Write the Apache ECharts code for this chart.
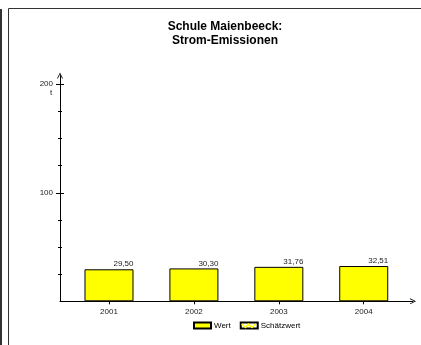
<!DOCTYPE html>
<html>
<head>
<meta charset="utf-8">
<style>
  html, body { margin: 0; padding: 0; background: #fff; }
  #chart { width: 421px; height: 345px; }
</style>
<script src="https://cdn.jsdelivr.net/npm/echarts@6/dist/echarts.min.js"></script>
</head>
<body>
<div id="chart"></div>
<script>
// Schule Maienbeeck: Strom-Emissionen (t)
var years = [2001, 2002, 2003, 2004];
var werte = [29.5, 30.3, 31.76, 32.51];
var yMajorTicks = [100, 200];
var yMinorTicks = [25, 50, 75, 125, 150, 175];

var FONT = "'Liberation Sans', Arial, sans-serif";
var chevron = "path://M0,10 L5,0 L10,10 L8.6,10 L5,2.6 L1.4,10 Z";

function yAxisTicks(values, len, inside, extra) {
  return Object.assign({
    type: "value",
    min: 0,
    max: 208,
    position: "left",
    offset: 0,
    axisLine: { show: false },
    splitLine: { show: false },
    axisLabel: { show: false },
    axisTick: {
      show: true,
      customValues: values,
      length: len,
      inside: inside,
      lineStyle: { color: "#000", width: 1 },
    },
  }, extra || {});
}

var myChart = echarts.init(document.getElementById("chart"));
var option = {
  backgroundColor: "#fff",
  animation: false,
  textStyle: { fontFamily: FONT },
  title: {
    text: "Schule Maienbeeck:\nStrom-Emissionen",
    left: 220,
    top: 15,
    textAlign: "center",
    textStyle: {
      fontFamily: FONT,
      fontSize: 12,
      fontWeight: "bold",
      color: "#000",
      lineHeight: 14,
    },
  },
  graphic: [
    {
      type: "rect",
      shape: { x: 0, y: 9, width: 2, height: 340 },
      style: { fill: "#333" },
    },
    {
      type: "rect",
      shape: { x: 8.5, y: 8.5, width: 420, height: 345 },
      style: { fill: null, stroke: "#333", lineWidth: 1 },
    },
    {
      type: "text",
      x: 51,
      y: 93,
      style: { text: "t", font: "8px " + FONT, fill: "#222", align: "center", verticalAlign: "middle" },
    },
    // zigzag fill of the "Schätzwert" legend box
    {
      type: "polyline",
      z: 100,
      shape: { points: [[241.5, 324], [245.5, 327.5], [248.5, 324], [252, 327.5], [255.5, 324]] },
      style: { stroke: "#ffff00", lineWidth: 1.5, fill: null },
    },
  ],
  legend: {
    left: 193,
    top: 321.5,
    padding: 0,
    itemWidth: 17,
    itemHeight: 6,
    itemGap: 9,
    textStyle: { fontFamily: FONT, fontSize: 8, color: "#000", padding: [0, 0, 0, -2] },
    data: [
      { name: "Wert", icon: "rect" },
      { name: "Schätzwert", icon: "rect" },
    ],
  },
  grid: {
    left: 60,
    right: 8,
    top: 75.6,
    bottom: 43.7,
  },
  xAxis: {
    type: "value",
    min: 2000.423,
    max: 2004.58,
    axisLine: {
      show: true,
      symbol: ["none", chevron],
      symbolSize: [8, 6],
      lineStyle: { color: "#000", width: 1 },
    },
    axisTick: {
      show: true,
      customValues: years,
      length: 3,
      lineStyle: { color: "#000" },
    },
    axisLabel: {
      customValues: years,
      margin: 6,
      fontSize: 8,
      color: "#222",
      formatter: function (v) { return String(v); },
    },
    splitLine: { show: false },
  },
  yAxis: [
    yAxisTicks(yMajorTicks, 4, false, {
      axisLine: {
        show: true,
        symbol: ["none", chevron],
        symbolSize: [8, 6],
        lineStyle: { color: "#000", width: 1 },
      },
      axisLabel: {
        show: true,
        customValues: yMajorTicks,
        margin: 7,
        fontSize: 8,
        color: "#222",
      },
    }),
    yAxisTicks(yMajorTicks, 4, true),
    yAxisTicks(yMinorTicks, 2, false),
    yAxisTicks(yMinorTicks, 2, true),
  ],
  series: [
    {
      name: "Wert",
      type: "bar",
      barWidth: 49,
      barGap: "-100%",
      data: years.map(function (y, i) { return [y, werte[i]]; }),
      itemStyle: { color: "#ffff00", borderColor: "#000", borderWidth: 1 },
      label: {
        show: true,
        position: ["100%", -1],
        align: "right",
        verticalAlign: "bottom",
        fontSize: 8,
        color: "#222",
        formatter: function (p) { return p.value[1].toFixed(2).replace(".", ","); },
      },
    },
    {
      name: "Schätzwert",
      type: "bar",
      barWidth: 49,
      barGap: "-100%",
      data: [],
      itemStyle: { color: "#fff", borderColor: "#000", borderWidth: 1 },
    },
  ],
};
myChart.setOption(option);

window.addEventListener("resize", function () {
  myChart.resize();
});
</script>
</body>
</html>
